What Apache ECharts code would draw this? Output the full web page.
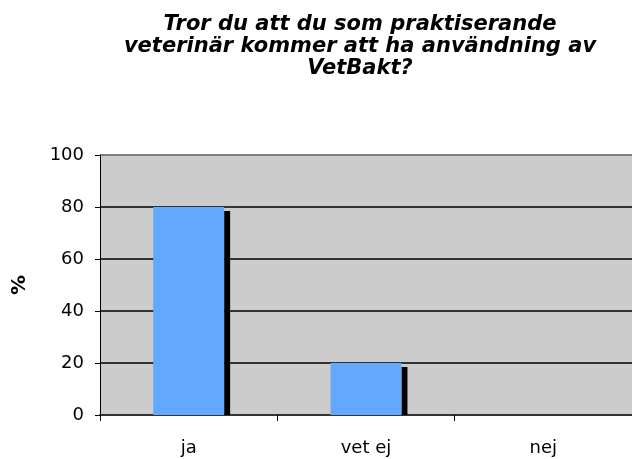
<!DOCTYPE html>
<html lang="sv">
<head>
    <meta charset="UTF-8">
    <title>VetBakt</title>
    <script src="https://cdn.jsdelivr.net/npm/echarts@6/dist/echarts.min.js"></script>
    <style>
        *{
            padding:0;
            margin:0;
        }
        html,body{
            height:100%;
            background:#fff;
        }
        #main{
            width:632px;
            height:459px;
        }
    </style>
</head>
<body>
<div id="main"></div>
<script>
    // data
    var categories = ['ja', 'vet ej', 'nej'];
    var values = [80, 20, 0];
    var yTicks = [0, 20, 40, 60, 80, 100];

    var myChart = echarts.init(document.getElementById('main'));

    var option = {
        animation: false,
        title: {
            text: 'Tror du att du som praktiserande\nveterinär kommer att ha användning av\nVetBakt?',
            left: 355,
            textAlign: 'center',
            top: 9,
            textStyle: {
                fontFamily: 'DejaVu Sans',
                fontStyle: 'italic',
                fontWeight: 'bold',
                fontSize: 21,
                lineHeight: 22,
                color: '#000'
            }
        },
        grid: {
            left: 100,
            right: 0,
            top: 155,
            bottom: 44,
            show: true,
            backgroundColor: '#cccccc',
            borderWidth: 0
        },
        xAxis: {
            type: 'category',
            data: categories,
            axisLine: { lineStyle: { color: '#333', width: 2 } },
            axisTick: { show: true, length: 6, lineStyle: { color: '#000' } },
            axisLabel: {
                margin: 24,
                fontFamily: 'DejaVu Sans',
                fontSize: 18,
                color: '#000'
            }
        },
        yAxis: {
            type: 'value',
            min: yTicks[0],
            max: yTicks[yTicks.length - 1],
            interval: 20,
            name: '%',
            nameLocation: 'middle',
            nameRotate: 90,
            nameGap: 70,
            nameTextStyle: {
                fontFamily: 'DejaVu Sans',
                fontWeight: 'bold',
                fontSize: 20,
                color: '#000'
            },
            axisLine: { show: true, lineStyle: { color: '#000', width: 1 } },
            axisTick: { show: true, length: 5, lineStyle: { color: '#000' } },
            axisLabel: {
                margin: 16,
                fontFamily: 'DejaVu Sans',
                fontSize: 18,
                color: '#000'
            },
            splitLine: {
                lineStyle: {
                    color: ['#333', '#333', '#333', '#333', '#333', '#808080'],
                    width: 2
                }
            }
        },
        series: [
            {
                type: 'custom',
                data: values.map(function (v, i) { return [i, v]; }),
                renderItem: function (params, api) {
                    var base = api.coord([api.value(0), 0]);
                    var top = api.coord([api.value(0), api.value(1)]);
                    var band = api.size([1, 0])[0];
                    var w = band * 0.4;
                    var x0 = base[0] - w / 2;
                    var h = base[1] - top[1];
                    if (h <= 0) return null;
                    return {
                        type: 'group',
                        children: [
                            {
                                type: 'rect',
                                shape: { x: x0 + w, y: top[1] + 4, width: 6, height: h - 4 },
                                style: { fill: '#000' }
                            },
                            {
                                type: 'rect',
                                shape: { x: x0, y: top[1], width: w, height: h },
                                style: { fill: '#62a8ff' }
                            }
                        ]
                    };
                }
            }
        ]
    };
    myChart.setOption(option);
</script>
</body>
</html>
